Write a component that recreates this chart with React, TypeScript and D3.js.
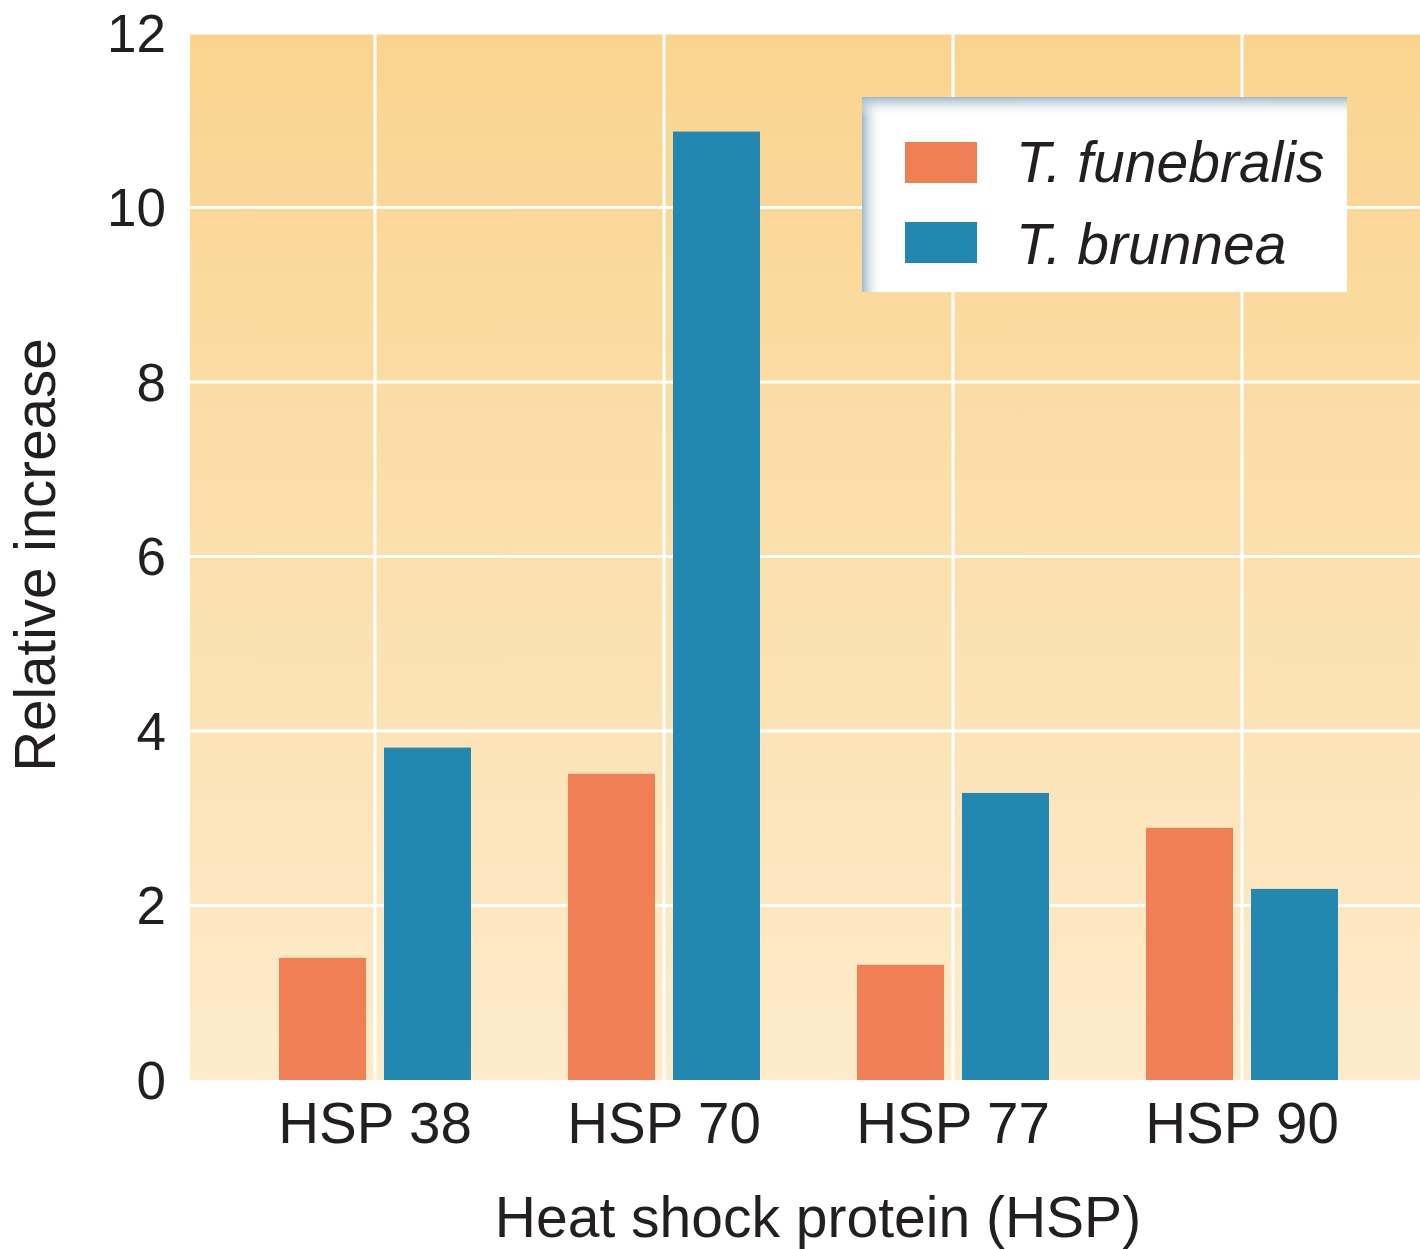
import React, { useEffect } from "react";
import * as d3 from "d3";

const categories = ["HSP 38", "HSP 70", "HSP 77", "HSP 90"];
const seriesNames = ["T. funebralis", "T. brunnea"];
const funebralisValues = [1.4, 3.51, 1.32, 2.89];
const brunneaValues = [3.81, 10.87, 3.29, 2.19];
const yTicks = [0, 2, 4, 6, 8, 10, 12];
const seriesColors = ["#f07f55", "#2287b1"];

const W = 1420;
const H = 1249;
const plotLeft = 190;
const plotRight = 1420;
const plotTop = 33;
const plotBottom = 1080;
const FONT = "'Liberation Sans', Arial, Helvetica, sans-serif";

export default function App() {
  useEffect(() => {
    document.body.style.margin = "0";
  }, []);

  const y = d3.scaleLinear().domain([0, 12]).range([plotBottom, plotTop]);
  const x = d3.scaleBand<string>().domain(categories).range([230.5, 1386.5]).padding(0);
  const xInner = d3
    .scaleBand<string>()
    .domain(seriesNames)
    .range([0, x.bandwidth()])
    .paddingInner(0.1714)
    .paddingOuter(0.462);

  const data = categories.map((c, i) => ({
    cat: c,
    vals: [funebralisValues[i], brunneaValues[i]],
  }));

  const lgX = 862, lgY = 97, lgW = 485, lgH = 195;

  return (
    <svg width={W} height={H} style={{ position: "absolute", left: 0, top: 0, background: "#fff" }}>
      <defs>
        <linearGradient id="bg" x1="0" y1="0" x2="0" y2="1">
          <stop offset="0" stopColor="#fad48f" />
          <stop offset="1" stopColor="#fdebcb" />
        </linearGradient>
        <linearGradient id="shL" x1="0" y1="0" x2="1" y2="0">
          <stop offset="0" stopColor="#9fb8c8" />
          <stop offset="1" stopColor="#ffffff" stopOpacity="0" />
        </linearGradient>
        <linearGradient id="shT" x1="0" y1="0" x2="0" y2="1">
          <stop offset="0" stopColor="#9fb8c8" />
          <stop offset="1" stopColor="#ffffff" stopOpacity="0" />
        </linearGradient>
      </defs>
      <rect x={plotLeft} y={plotTop} width={plotRight - plotLeft} height={plotBottom - plotTop} fill="url(#bg)" />
      {yTicks.filter((t) => t > 0).map((t) => (
        <line key={"h" + t} x1={plotLeft} x2={plotRight} y1={y(t)} y2={y(t)} stroke="#fff" strokeWidth={3} />
      ))}
      {categories.map((c) => (
        <line
          key={"v" + c}
          x1={(x(c) as number) + x.bandwidth() / 2}
          x2={(x(c) as number) + x.bandwidth() / 2}
          y1={plotTop}
          y2={plotBottom}
          stroke="#fff"
          strokeWidth={3}
        />
      ))}
      {data.map((d) => (
        <g key={d.cat} transform={`translate(${x(d.cat)},0)`}>
          {d.vals.map((v, j) => (
            <rect
              key={j}
              x={xInner(seriesNames[j])}
              y={y(v)}
              width={xInner.bandwidth()}
              height={y(0) - y(v)}
              fill={seriesColors[j]}
            />
          ))}
        </g>
      ))}
      {yTicks.map((t) => (
        <text
          key={"yt" + t}
          x={166}
          y={y(t)}
          textAnchor="end"
          dominantBaseline="central"
          fontFamily={FONT}
          fontSize={53}
          fill="#231f20"
        >
          {t}
        </text>
      ))}
      {categories.map((c) => (
        <text
          key={"xt" + c}
          x={(x(c) as number) + x.bandwidth() / 2}
          y={1143}
          textAnchor="middle"
          fontFamily={FONT}
          fontSize={56.5}
          fill="#231f20"
        >
          {c}
        </text>
      ))}
      <text x={818} y={1237} textAnchor="middle" fontFamily={FONT} fontSize={57} fill="#231f20">
        Heat shock protein (HSP)
      </text>
      <text
        transform={`translate(55,${555}) rotate(-90)`}
        textAnchor="middle"
        fontFamily={FONT}
        fontSize={56.5}
        fill="#231f20"
      >
        Relative increase
      </text>
      <g>
        <rect x={lgX} y={lgY} width={lgW} height={lgH} fill="#fff" />
        <rect x={lgX} y={lgY} width={20} height={lgH} fill="url(#shL)" />
        <rect x={lgX} y={lgY} width={lgW} height={20} fill="url(#shT)" />
        {seriesNames.map((s, i) => (
          <g key={s}>
            <rect x={905} y={142 + i * 80} width={72} height={41} fill={seriesColors[i]} />
            <text
              x={1016}
              y={182 + i * 82}
              fontFamily={FONT}
              fontStyle="italic"
              fontSize={57}
              fill="#231f20"
            >
              {s}
            </text>
          </g>
        ))}
      </g>
    </svg>
  );
}
